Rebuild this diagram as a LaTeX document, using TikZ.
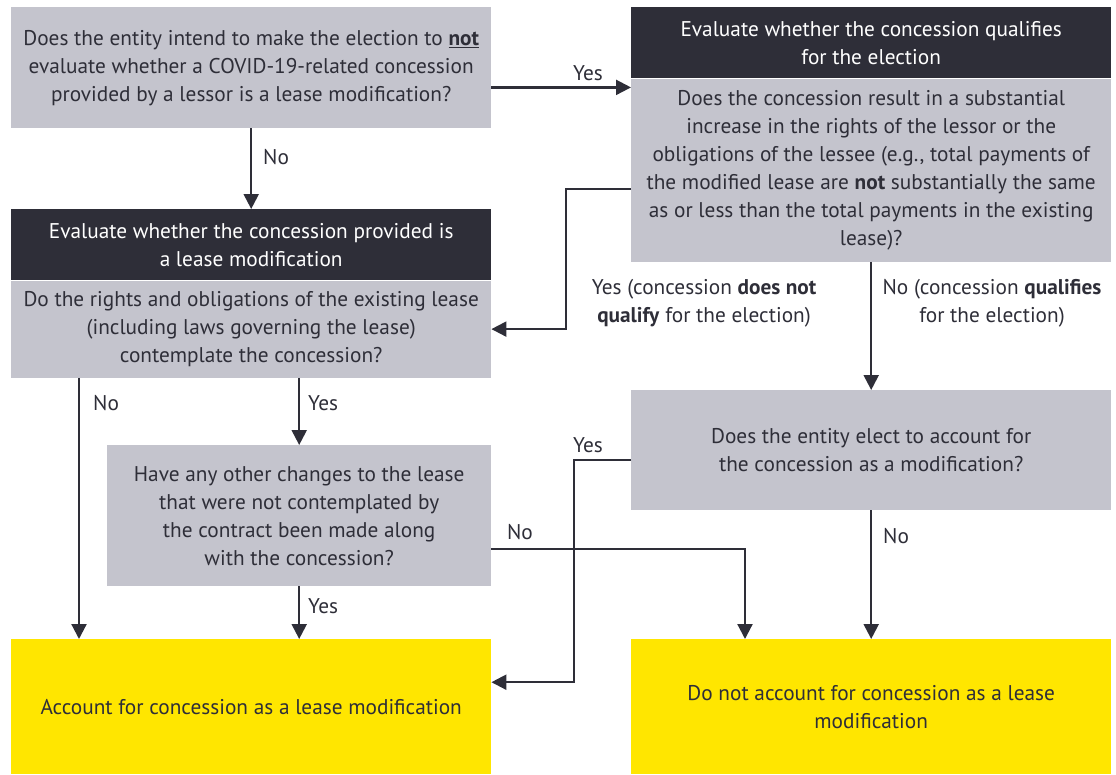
\documentclass[tikz,border=0pt]{standalone}
\usepackage{fontspec}
\setmainfont{PT Sans}
\usetikzlibrary{arrows.meta, positioning}
\definecolor{eydark}{HTML}{2E2E38}
\definecolor{eygray}{HTML}{C4C4CD}
\definecolor{eyyellow}{HTML}{FFE600}

\begin{document}
\begin{tikzpicture}[
  x=1pt, y=1pt,
  every node/.style={font=\fontsize{21.3}{28}\selectfont, inner sep=0pt},
  qbox/.style={fill=eygray, text=eydark, align=center, minimum width=480pt},
  hbox/.style={fill=eydark, text=white, align=center, minimum width=480pt, minimum height=71pt},
  ybox/.style={fill=eyyellow, text=eydark, align=center, minimum width=480pt, minimum height=135pt},
  flow/.style={draw=eydark, line width=2.2pt, -{Triangle[length=15pt, width=15pt]}},
  lbl/.style={text=eydark, align=center}
]
\useasboundingbox (0,0) rectangle (1116,-774);

% left column
\node[qbox, minimum height=121pt, anchor=north west] (q1) at (11,-7)
  {Does the entity intend to make the election to \underline{\textbf{not}}\\
   evaluate whether a COVID-19-related concession\\
   provided by a lessor is a lease modification?};
\node[hbox, anchor=north west] (modhd) at (11,-209)
  {Evaluate whether the concession provided is\\ a lease modification};
\node[qbox, minimum height=97pt, below=0pt of modhd] (modq)
  {Do the rights and obligations of the existing lease\\
   (including laws governing the lease)\\
   contemplate the concession?};
\node[qbox, minimum width=384pt, minimum height=141pt, anchor=north west] (other) at (107,-445)
  {Have any other changes to the lease\\
   that were not contemplated by\\
   the contract been made along\\
   with the concession?};
\node[ybox, anchor=north west] (endyes) at (11,-639)
  {Account for concession as a lease modification};

% right column
\node[hbox, anchor=north west] (qualhd) at (631,-7)
  {Evaluate whether the concession qualifies\\ for the election};
\node[qbox, minimum height=183pt, below=0pt of qualhd] (qualq)
  {Does the concession result in a substantial\\
   increase in the rights of the lessor or the\\
   obligations of the lessee (e.g., total payments of\\
   the modified lease are \textbf{not} substantially the same\\
   as or less than the total payments in the existing\\
   lease)?};
\node[qbox, minimum height=120pt, anchor=north west] (elect) at (631,-390)
  {Does the entity elect to account for\\
   the concession as a modification?};
\node[ybox, anchor=north west] (endno) at (631,-639)
  {Do not account for concession as a lease\\ modification};

% connectors
\draw[flow] (q1.south) -- (modhd.north);
\draw[flow] ([yshift=-9pt]qualq.north west -| q1.east) -- ([yshift=-9pt]qualq.north west);
\draw[flow] ([yshift=-18.5pt]qualq.west) -- ++(-65,0) |- (modq.east);
\draw[flow] (qualq.south) -- (elect.north);
\draw[flow] ([xshift=68pt]modq.south west) -- ([xshift=68pt]endyes.north west);
\draw[flow] (other.north |- modq.south) -- (other.north);
\draw[flow] (other.south) -- (other.south |- endyes.north);
\draw[flow] ([yshift=-33.5pt]other.east) -| ([xshift=114pt]endno.north west);
\draw[flow] ([yshift=-10pt]elect.west) -- ++(-57,0) |- ([yshift=24.5pt]endyes.east);
\draw[flow] (elect.south) -- (endno.north);

% labels
\node[lbl] (lyes1) at (588,-73) {Yes};
\node[lbl, anchor=west] (lno1) at (263,-157) {No};
\node[lbl] (lyes2) at (704,-303) {Yes (concession \textbf{does not}\\ \textbf{qualify} for the election)};
\node[lbl] (lno2) at (992,-303) {No (concession \textbf{qualifies}\\ for the election)};
\node[lbl] (lyes3) at (588,-445) {Yes};
\node[lbl, anchor=west] (lno3) at (93,-403) {No};
\node[lbl, anchor=west] (lyes4) at (308,-403) {Yes};
\node[lbl] (lno4) at (520,-532) {No};
\node[lbl, anchor=west] (lno5) at (883,-536) {No};
\node[lbl, anchor=west] (lyes5) at (308,-606) {Yes};
\end{tikzpicture}
\end{document}
